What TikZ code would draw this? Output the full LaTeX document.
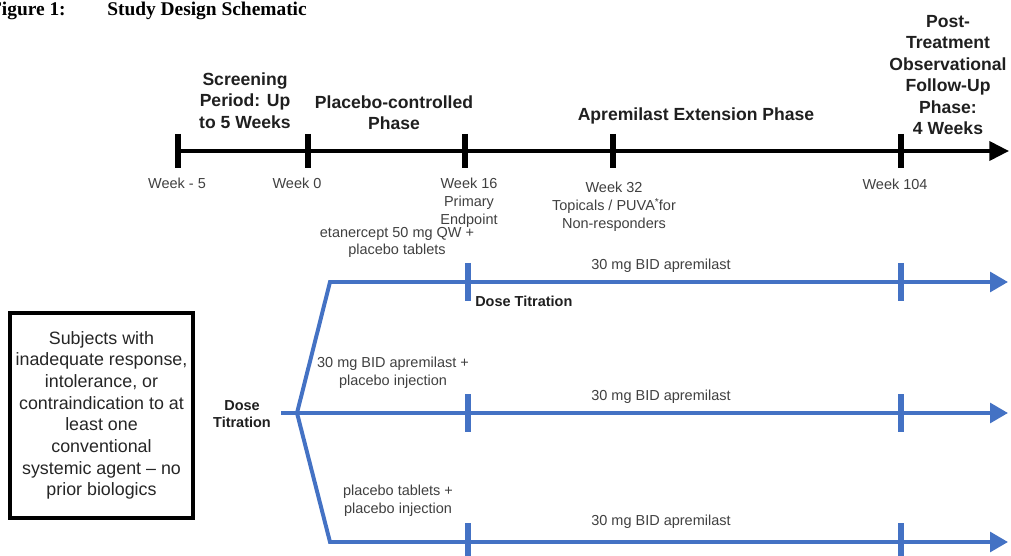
\documentclass[tikz,border=0pt]{standalone}
\usepackage{fontspec}
\setmainfont{Liberation Sans}
\newfontfamily\titlefont{Liberation Serif}
\usetikzlibrary{positioning,arrows.meta}
\definecolor{armblue}{RGB}{68,114,196}

\begin{document}
\begin{tikzpicture}[
    x=0.025cm, y=-0.025cm,
    head/.style={font=\bfseries\fontsize{12.5}{15.3}\selectfont, text=black!88, align=center, inner sep=0pt, anchor=north},
    week/.style={font=\fontsize{10.3}{12.6}\selectfont, text=black!75, align=center, inner sep=0pt, anchor=north},
    armtext/.style={font=\fontsize{10.3}{12.3}\selectfont, text=black!75, align=center, inner sep=0pt, anchor=base},
    timeline/.style={line width=2.8pt, -{Triangle[length=14pt,width=13.5pt]}},
    tickmark/.style={line width=4pt},
    armline/.style={draw=armblue, line width=2.8pt, -{Triangle[length=12.8pt,width=14pt]}},
    armtick/.style={draw=armblue, line width=3.6pt},
    subjbox/.style={rectangle, draw=black, line width=2.2pt, minimum width=4.575cm, minimum height=5.125cm, align=center, font=\fontsize{12.7}{15.4}\selectfont, text=black!85}
]
\useasboundingbox (0,0) rectangle (1011,556);

% Title
\node[anchor=base east, inner sep=0pt, font=\titlefont\bfseries\fontsize{13.8}{15}\selectfont] (figno) at (66,16) {Figure 1:};
\node[anchor=base west, inner sep=0pt, font=\titlefont\bfseries\fontsize{13.8}{15}\selectfont] (figtitle) at (107,16) {Study Design Schematic};

% Timeline points
\coordinate (wkm5) at (178,151);
\coordinate (wk0) at (308,151);
\coordinate (wk16) at (465,151);
\coordinate (wk32) at (613,151);
\coordinate (wk104) at (901,151);
\coordinate (tlend) at (1009,151);

% Phase headers
\node[head] (screen) at (245,72) {Screening\\Period: Up\\to 5 Weeks};
\node[head] (pcphase) at (394,95) {Placebo-controlled\\Phase};
\node[head] (extphase) at (696,107) {Apremilast Extension Phase};
\node[head] (postphase) at (948,15) {Post-\\Treatment\\Observational\\Follow-Up\\Phase:\\4 Weeks};

% Week labels
\node[week] (lwkm5) at (177,178) {Week - 5};
\node[week] (lwk0) at (297,178) {Week 0};
\node[week] (lwk16) at (469,178) {Week 16\\Primary\\Endpoint};
\node[week] (lwk32) at (614,182) {Week 32\\Topicals / PUVA\rlap{\textsuperscript{*}} for\\Non-responders};
\node[week] (lwk104) at (895,179) {Week 104};

% Timeline
\draw[timeline] (wkm5) -- (tlend);
\foreach \t in {wkm5,wk0,wk16,wk32,wk104}
  \draw[tickmark] (\t) ++(0,-17) -- ++(0,34);

% Subjects and titration
\node[subjbox] (subjects) at (101.5,415.5) {Subjects with\\inadequate response,\\intolerance, or\\contraindication to at\\least one\\conventional\\systemic agent -- no\\prior biologics};
\node[font=\bfseries\fontsize{10.3}{12.6}\selectfont, text=black!88, align=center, inner sep=0pt] (titr) at (242,414) {Dose\\Titration};

% Arm points
\coordinate (armstart) at (281,413);
\coordinate (split) at (297,413);
\coordinate (upcorner) at (330,282);
\coordinate (lowcorner) at (330,542);
\coordinate (upend) at (1008,282);
\coordinate (midend) at (1008,413);
\coordinate (lowend) at (1008,542);

% Arms
\draw[armline] (split) -- (upcorner) -- (upend);
\draw[armline] (armstart) -- (midend);
\draw[armline] (split) -- (lowcorner) -- (lowend);
\foreach \y in {282,413,542}{
  \draw[armtick] (468,\y-19) -- (468,\y+19);
  \draw[armtick] (901,\y-19) -- (901,\y+19);
}

% Arm labels
\node[armtext] (etan) at (397,255) {etanercept 50 mg QW +\\placebo tablets};
\node[armtext] (aprem) at (393,385) {30 mg BID apremilast +\\placebo injection};
\node[armtext] (plac) at (398,513) {placebo tablets +\\placebo injection};
\node[armtext] (ext1) at (661,270) {30 mg BID apremilast};
\node[armtext] (ext2) at (661,400) {30 mg BID apremilast};
\node[armtext] (ext3) at (661,525) {30 mg BID apremilast};
\node[armtext, anchor=base west, font=\bfseries\fontsize{10.3}{12.6}\selectfont, text=black!88] (titr2) at (475,307) {Dose Titration};

\end{tikzpicture}
\end{document}
